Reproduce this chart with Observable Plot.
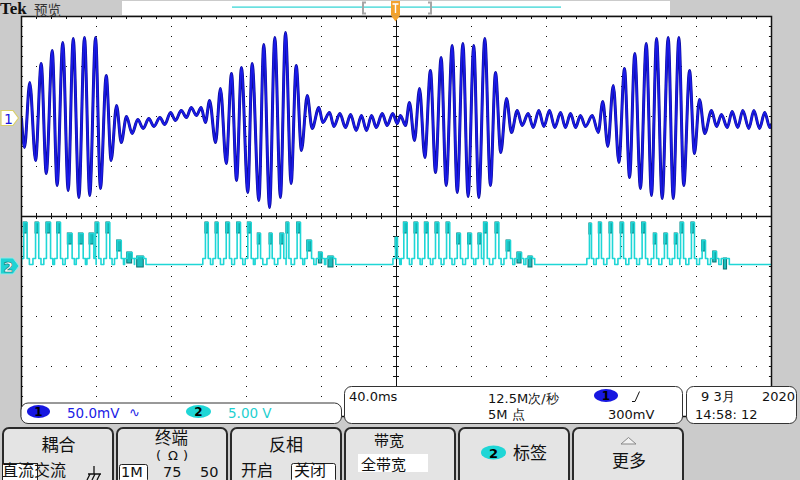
<!DOCTYPE html>
<html><head><meta charset="utf-8">
<script src="https://cdn.jsdelivr.net/npm/d3@7"></script>
<script src="https://cdn.jsdelivr.net/npm/@observablehq/plot@0.6"></script>
<style>
body{margin:0;background:#cbcbcb;width:800px;height:480px;overflow:hidden;}
#wrap{position:relative;width:800px;height:480px;}
#chart,#chrome{position:absolute;left:0;top:0;}
#chrome{pointer-events:none;}
</style></head>
<body><div id="wrap"><div id="chart"></div>
<svg id="chrome" width="800" height="480" xmlns="http://www.w3.org/2000/svg"></svg></div>
<script>
// ---- Channel 1 (blue): time in ms (40 ms/div), amplitude in mV (50 mV/div)
const ch1T = [-200,-198.4,-195.6,-192.5,-189.5,-186.8,-183.6,-181.0,-178.0,-175.1,-172.4,-169.4,-166.4,-163.6,-160.5,-157.9,-154.8,-152.2,-149.3,-146.8,-144.0,-141.0,-138.0,-135.1,-132.1,-129.4,-126.2,-123.6,-120.5,-117.9,-114.8,-112.0,-109.5,-106.7,-104.2,-101.9,-99.7,-96.5,-93.9,-90.8,-88.0,-85.3,-82.7,-79.3,-77.0,-73.4,-70.8,-67.7,-64.9,-61.9,-59.2,-56.2,-53.5,-50.7,-47.6,-45.0,-41.4,-39.3,-35.7,-33.4,-30.2,-27.2,-24.5,-21.5,-18.7,-16.0,-13.3,-10.8,-7.6,-5.0,-2.0,0.4,2.1,4.8,6.9,9.6,12.3,15.1,18.1,20.8,23.8,26.5,29.7,32.4,35.4,38.2,41.2,43.9,47.1,50.1,52.8,55.6,58.7,61.3,64.4,67.0,70.2,72.9,75.9,78.6,81.6,84.4,87.5,90.1,92.8,95.5,98.1,100.8,104.4,107.6,110.0,112.7,115.6,118.6,121.6,124.3,127.1,130.1,133.2,136.0,138.7,141.7,144.9,147.6,150.6,153.2,156.3,158.9,161.6,164.4,168.0,170.7,173.3,176.4,179.0,182.0,184.7,187.9,190.6,193.6,196.4,199.1,200];
const ch1mV = [0,-29,36,-42,55,-55,68,-67,76,-72,80,-79,81,-77,81,-70,43,-42,13,-24,2,-15,-1,-10,0,-8,1,-6,6,-2,8,1,11,3,11,-4,18,-24,30,-45,45,-62,51,-74,55,-82,74,-89,81,-79,86,-65,53,-32,23,-10,11,-4,6,-8,5,-9,4,-12,3,-12,3,-9,5,-7,5,-5,3,-7,16,-22,30,-39,48,-54,61,-67,73,-74,75,-78,73,-79,80,-67,46,-34,20,-14,8,-7,5,-9,8,-8,8,-9,6,-9,5,-9,3,-8,3,-14,17,-28,33,-44,50,-59,65,-70,75,-77,80,-80,81,-80,81,-67,48,-35,19,-15,8,-8,4,-9,7,-9,8,-10,8,-10,6,-9,-6];
// ---- Channel 2 (cyan): pulse start/end in ms, pulse level in V (5 V/div)
const ch2Start = [-198.8,-192.5,-186.7,-181.0,-175.3,-169.4,-163.7,-160.5,-154.7,-149.0,-143.6,-138.3,
  -101.9,-96.5,-90.8,-85.0,-79.3,-74.0,-67.7,-61.9,-58.7,-53.0,-47.6,-41.4,-36.3,
  -0.5,3.9,9.6,15.1,20.8,26.7,32.4,38.2,43.7,46.6,52.8,58.7,64.5,70.4,
  102.9,107.9,113.6,119.5,125.3,131.0,137.2,142.9,148.4,151.5,157.3,163.0,168.9,174.6];
const ch2End = [-197.0,-190.8,-184.5,-179.2,-173.0,-167.1,-161.4,-158.8,-152.9,-146.8,-141.0,-134.8,
  -100.4,-95.1,-89.1,-83.2,-77.5,-72.5,-66.3,-60.1,-57.4,-51.2,-45.3,-39.6,-33.6,
  0.5,5.7,11.4,16.9,22.6,28.4,34.1,40.0,45.3,48.4,54.6,60.8,66.7,72.5,
  104.0,109.3,115.2,121.1,126.9,132.8,138.7,144.5,149.9,153.1,158.9,164.8,170.7,176.3];
const ch2Level = [4.4,4.4,4.4,4.4,3.3,3.3,3.3,4.4,4.4,2.6,1.4,1.0,
  4.4,4.4,4.4,4.4,4.4,3.3,3.3,3.3,4.4,4.4,2.6,1.4,1.0,
  2.9,4.4,4.4,4.4,4.4,4.4,3.3,3.3,3.3,4.4,4.4,2.6,1.4,1.0,
  4.3,4.4,4.4,4.4,4.4,4.4,3.3,3.3,3.3,4.4,4.4,2.6,1.5,0.8];
const CH1_POS = 1.96, CH2_POS = -1.0;   // trace positions in divisions
const CH1_SCALE = 50, CH2_SCALE = 5;    // per division
const gridT = [-160,-120,-80,-40,40,80,120,160];
const gridD = [-3,-2,-1,1,2,3];

const ch1 = ch1T.map((t,i)=>({t, v: ch1mV[i]}));
const pulses = ch2Start.map((s,i)=>({s, e: ch2End[i], lv: ch2Level[i]}));
const BASE = 0.2, SH = 0.8;
const ch2 = [{t:-200, v: BASE}];
let prevEnd = -200;
for (const p of pulses) {
  const a = Math.max(p.s - 1.4, prevEnd);
  ch2.push({t:a, v:BASE},{t:a, v:SH},{t:p.s, v:SH},{t:p.s, v:p.lv},{t:p.e, v:p.lv},{t:p.e, v:SH},{t:p.e+1.2, v:SH},{t:p.e+1.2, v:BASE});
  prevEnd = p.e + 1.2;
}
ch2.push({t:200, v:BASE});
const y1 = d => CH1_POS + d.v / CH1_SCALE;
const y2 = d => CH2_POS + d.v / CH2_SCALE;

const minorT = d3.range(-200, 200.01, 8);
const minorD = d3.range(-4, 4.001, 0.2);

const plot = Plot.plot({
  width: 800, height: 480,
  marginLeft: 21, marginRight: 29, marginTop: 16, marginBottom: 64,
  x: {domain: [-200, 200], axis: null},
  y: {domain: [-4, 4], axis: null},
  style: {background: "transparent"},
  marks: [
    Plot.frame({fill: "white", stroke: "none"}),
    Plot.ruleX(gridT, {stroke: "#111", strokeDasharray: "1 9", strokeWidth: 1}),
    Plot.ruleY(gridD, {stroke: "#111", strokeDasharray: "1 14", strokeWidth: 1}),
    Plot.ruleX([0], {stroke: "#111"}),
    Plot.ruleY([0], {stroke: "#111", strokeWidth: 1.5}),
    Plot.ruleX(minorT, {y1: -0.06, y2: 0.06, stroke: "#111"}),
    Plot.ruleY(minorD, {x1: -1.6, x2: 1.6, stroke: "#111"}),
    Plot.ruleX(minorT, {y1: 4, y2: 3.94, stroke: "#111"}),
    Plot.ruleY(minorD, {x1: -200, x2: -198.9, stroke: "#111"}),
    Plot.ruleY(minorD, {x1: 198.9, x2: 200, stroke: "#111"}),
    Plot.rect(pulses, {x1: "s", x2: "e", y1: d => CH2_POS + (d.lv - 1.1)/CH2_SCALE, y2: d => CH2_POS + d.lv/CH2_SCALE, fill: "#1bbdbd", stroke: "#0b7373", strokeWidth: 1}),
    Plot.line(ch2, {x: "t", y: y2, stroke: "#1fd6d6", strokeWidth: 1.6, clip: true}),
    Plot.line(ch1, {x: "t", y: y1, curve: "monotone-x", stroke: "#0c0c96", strokeWidth: 3, clip: true}),
    Plot.line(ch1, {x: "t", y: y1, curve: "monotone-x", stroke: "#1a1ae8", strokeWidth: 1.9, clip: true}),
    Plot.frame({stroke: "#111", strokeWidth: 1.5})
  ]
});
document.getElementById("chart").appendChild(plot);

// ---- instrument chrome (decoration, not data)
const NS = "http://www.w3.org/2000/svg";
const C = document.getElementById("chrome");
function el(tag, attrs, text) {
  const e = document.createElementNS(NS, tag);
  for (const k in attrs) e.setAttribute(k, attrs[k]);
  if (text != null) e.textContent = text;
  C.appendChild(e); return e;
}
const CJK = '"Noto Sans CJK SC", sans-serif', SANS = '"DejaVu Sans", sans-serif';
function tx(x, y, s, size, fill, fam, extra) {
  return el("text", Object.assign({x, y, "font-size": size, fill: fill || "#111", "font-family": fam || SANS}, extra || {}), s);
}
// top bar
tx(0, 14, "Tek", 17, "#111", '"Liberation Serif", serif', {"font-weight": "bold"});
tx(34, 15, "预览", 13.5, "#333", CJK);
el("rect", {x: 122, y: 1, width: 548, height: 14, fill: "white"});
el("rect", {x: 232, y: 6.5, width: 329, height: 1.2, fill: "#2bd3d3"});
el("path", {d: "M366 2.5 H363 V13.5 H366 M428 2.5 H431 V13.5 H428", stroke: "#a5a5a5", "stroke-width": 2, fill: "none"});
el("path", {d: "M391 1 H400 V15.5 H391 Z", fill: "#f3a22c"});
el("path", {d: "M391 15.5 H400 L395.5 21.5 Z", fill: "#f3a22c"});
el("path", {d: "M392.5 4 H398.5 M395.5 4 V13", stroke: "#ffffff", "stroke-width": 1.4});
// channel markers
el("path", {d: "M1 110.5 H13 L18.5 118 L13 125.5 H1 Z", fill: "white", stroke: "#d9cf6a", "stroke-width": 1.2});
tx(4, 124, "1", 14, "#1717e0");
el("path", {d: "M0.5 258 H13 L19 266 L13 274 H0.5 Z", fill: "#1fd3d3", stroke: "#8fe8e8", "stroke-width": 1});
tx(3.5, 272, "2", 14, "#ffffff", SANS, {"font-weight": "bold", stroke: "#0a7070", "stroke-width": 0.6});
// readout boxes
el("rect", {x: 21, y: 403, width: 320.5, height: 20.5, rx: 7, fill: "white", stroke: "#333", "stroke-width": 1});
el("ellipse", {cx: 38.5, cy: 411.5, rx: 11.5, ry: 6.5, fill: "#1717e0"});
tx(38.5, 416, "1", 12, "#000", SANS, {"text-anchor": "middle", "font-weight": "bold"});
tx(67, 417.5, "50.0mV", 13.5, "#2020e6");
tx(129, 416.5, "∿", 13, "#2020e6");
el("ellipse", {cx: 198.5, cy: 411.5, rx: 12.5, ry: 6.5, fill: "#1fd6d6"});
tx(198.5, 416, "2", 12, "#000", SANS, {"text-anchor": "middle", "font-weight": "bold"});
tx(228, 417.5, "5.00 V", 13.5, "#1fd0d0");
el("rect", {x: 344.5, y: 386.5, width: 338, height: 37, rx: 7, fill: "white", stroke: "#333", "stroke-width": 1});
tx(349, 400.5, "40.0ms", 13, "#111");
tx(488, 402.5, "12.5M次/秒", 13, "#111", SANS);
tx(488, 419, "5M 点", 13, "#111", SANS);
el("ellipse", {cx: 606, cy: 395.5, rx: 12, ry: 6.5, fill: "#1717e0"});
tx(606, 400, "1", 12, "#000", SANS, {"text-anchor": "middle", "font-weight": "bold"});
el("path", {d: "M632 401.5 H635 L639.5 391.5", stroke: "#111", "stroke-width": 1, fill: "none"});
tx(608, 419, "300mV", 13, "#111");
el("rect", {x: 686.5, y: 386.5, width: 110, height: 37, rx: 7, fill: "white", stroke: "#333", "stroke-width": 1});
tx(701, 401, "9 3月", 13, "#111", SANS);
tx(762, 401, "2020", 13, "#111");
tx(695, 419, "14:58: 12", 13, "#111");
// softkey buttons
[3, 117, 231, 345, 459, 573].forEach(x => el("rect", {x, y: 428, width: 110, height: 60, rx: 6, fill: "#e4e4e4", stroke: "#2a2a2a", "stroke-width": 2}));
tx(41.5, 451, "耦合", 17, "#111", CJK);
el("rect", {x: 2.5, y: 463.5, width: 35, height: 18, fill: "white", stroke: "#222", "stroke-width": 1});
tx(2, 475.5, "直流交流", 16, "#111", CJK);
el("path", {d: "M94 466 V474 M88 474 H101 M90 474 L87 480 M95 474 L92 480 M100 474 L97 480", stroke: "#111", "stroke-width": 1.3, fill: "none"});
tx(155, 444, "终端", 16.5, "#111", CJK);
tx(156, 459.5, "(", 13, "#111", SANS);
tx(168, 459.5, "Ω", 13, "#111", SANS);
tx(183, 459.5, ")", 13, "#111", SANS);
el("rect", {x: 119.5, y: 464.5, width: 28, height: 17, rx: 2, fill: "white", stroke: "#222", "stroke-width": 1});
tx(121, 476.5, "1M", 14.5, "#111", SANS);
tx(163, 476.5, "75", 14.5, "#111", SANS);
tx(200, 476.5, "50", 14.5, "#111", SANS);
tx(269, 451, "反相", 17, "#111", CJK);
tx(241, 475.5, "开启", 16, "#111", CJK);
el("rect", {x: 291.5, y: 463.5, width: 44, height: 18, rx: 2, fill: "white", stroke: "#222", "stroke-width": 1});
tx(294, 475.5, "关闭", 16, "#111", CJK);
tx(374, 446, "带宽", 15, "#111", CJK);
el("rect", {x: 358, y: 454, width: 70, height: 18, fill: "white"});
tx(361, 470, "全带宽", 15, "#111", CJK);
el("ellipse", {cx: 493.5, cy: 452.5, rx: 12.5, ry: 7, fill: "#1fd6d6"});
tx(493.5, 457.5, "2", 13, "#000", SANS, {"text-anchor": "middle", "font-weight": "bold"});
tx(513, 459, "标签", 17, "#111", CJK);
el("path", {d: "M621 444 L628.5 437.5 L636 444 Z", fill: "#f2f2f2", stroke: "#888", "stroke-width": 1});
tx(612, 466.5, "更多", 17, "#111", CJK);
</script></body></html>
